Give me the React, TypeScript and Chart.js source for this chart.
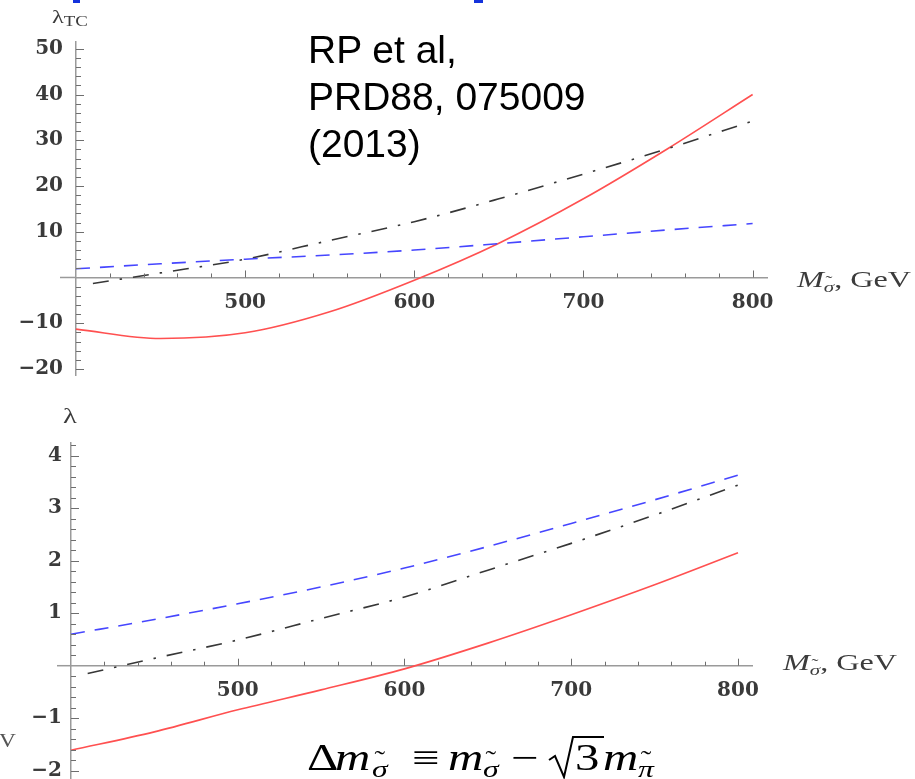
import React, { useEffect, useRef } from 'react';
import { Chart, registerables } from 'chart.js';

Chart.register(...registerables);

// ---------- data ----------
// upper panel: lambda_TC vs M (GeV)
const massTop = [400, 450, 500, 550, 600, 650, 700, 750, 800];
const lambdaTcRed = [-11.3, -13.35, -12.1, -7.5, -0.6, 7.5, 17.2, 28.2, 40.0];
const lambdaTcBlue = [1.9, 3.0, 4.0, 4.9, 6.0, 7.4, 8.9, 10.4, 11.8];
const massTopBlack = [410, 450, 500, 550, 600, 650, 700, 750, 800];
const lambdaTcBlack = [-1.3, 1.0, 4.0, 8.1, 12.2, 17.2, 22.6, 28.2, 34.2];

// lower panel: lambda vs M (GeV)
const massBottom = [400, 450, 500, 550, 600, 650, 700, 750, 800];
const lambdaRed = [-1.61, -1.26, -0.84, -0.46, -0.06, 0.43, 0.97, 1.54, 2.15];
const lambdaBlue = [0.6, 0.88, 1.18, 1.5, 1.86, 2.27, 2.71, 3.16, 3.63];
const massBottomBlack = [410, 450, 500, 550, 600, 650, 700, 750, 800];
const lambdaBlack = [-0.15, 0.14, 0.49, 0.9, 1.31, 1.82, 2.33, 2.87, 3.44];

// tick labels
const xTickLabels = [500, 600, 700, 800];
const yTopTickLabels = [-20, -10, 10, 20, 30, 40, 50];
const yBottomTickLabels = [-2, -1, 1, 2, 3, 4];

// ---------- styling ----------
const RED = 'rgb(255,80,80)';
const BLUE = 'rgb(70,70,255)';
const BLACK = 'rgb(55,55,55)';
const AXIS = '#9a9a9a';
const TICK = '#6e6e6e';
const TICK_FONT = { family: "'DejaVu Serif', serif", size: 20, weight: 'bold' };
const TICK_COLOR = '#3a3a3a';

function range(a: number, b: number, step: number): number[] {
  const out: number[] = [];
  const n = Math.round((b - a) / step);
  for (let i = 0; i <= n; i++) out.push(+(a + i * step).toFixed(6));
  return out;
}

const fmt = (v: number) => (v < 0 ? '\u2212' + Math.abs(v) : String(v));

// Mathematica-style axis decorations: inward ticks and the short stub of the
// horizontal axis that sticks out to the left of the vertical axis.
const mmaTicksPlugin = {
  id: 'mmaTicks',
  afterDraw(chart: any, _args: any, opts: any) {
    const { ctx } = chart;
    const xs = chart.scales.x;
    const ys = chart.scales.y;
    const x0 = xs.getPixelForValue(opts.xOrigin);
    const y0 = ys.getPixelForValue(0);
    ctx.save();
    ctx.strokeStyle = AXIS;
    ctx.lineWidth = 1.5;
    ctx.beginPath();
    ctx.moveTo(x0 - opts.stub, y0);
    ctx.lineTo(x0, y0);
    ctx.stroke();
    ctx.strokeStyle = TICK;
    ctx.lineWidth = 1;
    ctx.beginPath();
    for (const v of opts.xMinor) {
      const px = Math.round(xs.getPixelForValue(v)) + 0.5;
      const major = Math.abs(v % opts.xMajorStep) < 1e-6;
      ctx.moveTo(px, y0);
      ctx.lineTo(px, y0 - (major ? 7 : 4));
    }
    for (const v of opts.yMinor) {
      if (Math.abs(v) < 1e-9) continue;
      const py = Math.round(ys.getPixelForValue(v)) + 0.5;
      const major = Math.abs(Math.round(v / opts.yMajorStep) * opts.yMajorStep - v) < 1e-6;
      ctx.moveTo(x0, py);
      ctx.lineTo(x0 + (major ? 8 : 5), py);
    }
    ctx.stroke();
    ctx.restore();
  },
};

function series(xs: number[], ys: number[]) {
  return xs.map((x, i) => ({ x, y: ys[i] }));
}

function ds(xs: number[], ys: number[], color: string, dash: number[]) {
  return {
    data: series(xs, ys),
    borderColor: color,
    borderWidth: 1.6,
    borderDash: dash,
    pointRadius: 0,
    fill: false,
    clip: false,
    cubicInterpolationMode: 'monotone',
  };
}

const DASH_BLUE = [14, 10];
const DASH_BLACK = [16, 11, 2.5, 11];

function makeConfig(p: any) {
  return {
    type: 'line',
    data: {
      datasets: [
        ds(p.xBlue, p.yBlue, BLUE, DASH_BLUE),
        ds(p.xBlack, p.yBlack, BLACK, DASH_BLACK),
        ds(p.xRed, p.yRed, RED, []),
      ],
    },
    plugins: [mmaTicksPlugin],
    options: {
      animation: false,
      responsive: false,
      maintainAspectRatio: false,
      layout: { padding: p.padding },
      plugins: {
        legend: { display: false },
        tooltip: { enabled: false },
        mmaTicks: {
          xOrigin: 400,
          stub: p.stub,
          xMinor: range(420, 800, 20),
          xMajorStep: 100,
          yMinor: p.yMinor,
          yMajorStep: p.yMajorStep,
        },
      },
      scales: {
        x: {
          type: 'linear',
          axis: 'x',
          min: 400,
          max: p.xMax,
          position: { y: 0 },
          grid: { display: false, drawTicks: false },
          border: { display: true, color: AXIS, width: 1.5 },
          afterBuildTicks: (s: any) => {
            s.ticks = xTickLabels.map((v) => ({ value: v }));
          },
          ticks: {
            font: TICK_FONT,
            color: TICK_COLOR,
            padding: p.xPad,
            autoSkip: false,
            maxRotation: 0,
            callback: (v: number) => fmt(v),
          },
        },
        y: {
          type: 'linear',
          axis: 'y',
          min: p.yMin,
          max: p.yMax,
          position: 'left',
          afterFit: (s: any) => {
            s.width = p.axisX;
          },
          grid: { display: false, drawTicks: false },
          border: { display: true, color: AXIS, width: 1.5 },
          afterBuildTicks: (s: any) => {
            s.ticks = p.yTicks.map((v: number) => ({ value: v }));
          },
          ticks: {
            font: TICK_FONT,
            color: TICK_COLOR,
            padding: p.yPad,
            autoSkip: false,
            callback: (v: number) => fmt(v),
          },
        },
      },
    },
  };
}

function Panel({ params, width, height }: { params: any; width: number; height: number }) {
  const ref = useRef<HTMLCanvasElement | null>(null);
  useEffect(() => {
    if (!ref.current) return;
    const chart = new Chart(ref.current, makeConfig(params) as any);
    return () => chart.destroy();
  }, [params]);
  return <canvas ref={ref} width={width} height={height} style={{ display: 'block', width, height }} />;
}

const topParams = {
  xBlue: massTop, yBlue: lambdaTcBlue,
  xBlack: massTopBlack, yBlack: lambdaTcBlack,
  xRed: massTop, yRed: lambdaTcRed,
  axisX: 76,
  stub: 16,
  padding: { left: 0, top: 42, right: 148, bottom: 20 },
  xMax: 808.5,
  yMin: -21.32, yMax: 51.48,
  yTicks: yTopTickLabels,
  yMinor: range(-20, 50, 2),
  yMajorStep: 10,
  xPad: 13, yPad: 13,
};

const bottomParams = {
  xBlue: massBottom, yBlue: lambdaBlue,
  xBlack: massBottomBlack, yBlack: lambdaBlack,
  xRed: massBottom, yRed: lambdaRed,
  axisX: 71,
  stub: 14,
  padding: { left: 0, top: 43, right: 163, bottom: 21 },
  xMax: 808.4,
  yMin: -2.158, yMax: 4.242,
  yTicks: yBottomTickLabels,
  yMinor: range(-2.2, 4.2, 0.2),
  yMajorStep: 1,
  xPad: 13, yPad: 9,
};

const serif = "'Liberation Serif', 'Times New Roman', serif";
const labelGray = '#3c3c3c';

// a letter with a tilde accent drawn above it
function Tilde({ ch, size }: { ch: string; size: number }) {
  return (
    <span style={{ position: 'relative', display: 'inline-block', fontStyle: 'italic' }}>
      {ch}
      <span
        style={{
          position: 'absolute', left: 0, width: '100%', textAlign: 'center', top: -size * 0.42,
          fontStyle: 'normal',
        }}
      >
        ˜
      </span>
    </span>
  );
}

function AxisName({ left, top }: { left: number; top: number }) {
  return (
    <div
      style={{
        position: 'absolute', left, top, fontFamily: serif, fontSize: 23, lineHeight: '23px',
        color: labelGray, whiteSpace: 'nowrap', transform: 'scaleX(1.4)', transformOrigin: 'left top',
      }}
    >
      <i>M</i>
      <span style={{ fontSize: 15, verticalAlign: -5 }}>
        <Tilde ch="σ" size={15} />
      </span>
      , GeV
    </div>
  );
}

// one piece of the formula, placed by its left edge and baseline
function Piece({ x, base, size, italic, children }: any) {
  return (
    <span
      style={{
        position: 'absolute', left: x, top: base - Math.round(size * 0.8375), fontFamily: serif,
        fontSize: size, lineHeight: `${size}px`, fontStyle: italic ? 'italic' : 'normal', color: '#000',
        whiteSpace: 'nowrap', transform: 'scaleX(1.32)', transformOrigin: 'left top',
      }}
    >
      {children}
    </span>
  );
}

export default function App() {
  const B = 770;
  const SB = 777;
  return (
    <div
      style={{
        position: 'absolute', left: 0, top: 0, width: 915, height: 779, overflow: 'hidden',
        background: '#fff',
      }}
    >
      {/* cut-off title fragments at top edge */}
      <div style={{ position: 'absolute', left: 73, top: 0, width: 7, height: 3, background: 'rgb(20,50,220)' }} />
      <div style={{ position: 'absolute', left: 474, top: 0, width: 9, height: 3, background: 'rgb(20,50,220)' }} />

      <div style={{ position: 'absolute', left: 0, top: 0, width: 915, height: 400 }}>
        <Panel params={topParams} width={915} height={400} />
      </div>
      <div style={{ position: 'absolute', left: 0, top: 400, width: 915, height: 379, overflow: 'hidden' }}>
        <Panel params={bottomParams} width={915} height={400} />
      </div>

      {/* y-axis titles */}
      <div
        style={{
          position: 'absolute', left: 52, top: 8, fontFamily: serif, fontSize: 18, lineHeight: '18px',
          color: labelGray, whiteSpace: 'nowrap', transform: 'scaleX(1.35)', transformOrigin: 'left top',
        }}
      >
        λ<span style={{ fontSize: 14, verticalAlign: -3 }}>TC</span>
      </div>
      <div
        style={{
          position: 'absolute', left: 63, top: 405, fontFamily: serif, fontSize: 22, lineHeight: '22px',
          color: labelGray, transform: 'scaleX(1.3)', transformOrigin: 'left top',
        }}
      >
        λ
      </div>

      {/* x-axis titles */}
      <AxisName left={797} top={268} />
      <AxisName left={783} top={651} />

      {/* citation */}
      <div
        style={{
          position: 'absolute', left: 308, top: 26, fontFamily: "'Liberation Sans', Arial, sans-serif",
          fontSize: 39, lineHeight: '47px', color: '#000', whiteSpace: 'nowrap',
        }}
      >
        RP et al,
        <br />
        PRD88, 075009
        <br />
        (2013)
      </div>

      {/* formula: Δm_σ̃ ≡ m_σ̃ − √3 m_π̃ */}
      <Piece x={307} base={B} size={37}>Δ</Piece>
      <Piece x={335} base={B} size={37} italic>m</Piece>
      <Piece x={372} base={SB} size={24}><Tilde ch="σ" size={24} /></Piece>
      <Piece x={412} base={B} size={37}>≡</Piece>
      <Piece x={448} base={B} size={37} italic>m</Piece>
      <Piece x={483} base={SB} size={24}><Tilde ch="σ" size={24} /></Piece>
      <Piece x={511} base={B} size={37}>−</Piece>
      <svg style={{ position: 'absolute', left: 0, top: 0 }} width={915} height={779}>
        <polyline
          points="549,760 555,756 564,777 573,737 604,737"
          fill="none"
          stroke="#000"
          strokeWidth={2}
          strokeLinejoin="miter"
        />
      </svg>
      <Piece x={575} base={B} size={37}>3</Piece>
      <Piece x={603} base={B} size={37} italic>m</Piece>
      <Piece x={638} base={SB} size={24}><Tilde ch="π" size={24} /></Piece>

      {/* cut-off fragment at left edge */}
      <div
        style={{
          position: 'absolute', left: -1, top: 732, fontFamily: serif, fontSize: 18, lineHeight: '18px',
          color: '#555', transform: 'scaleX(1.3)', transformOrigin: 'left top',
        }}
      >
        V
      </div>
    </div>
  );
}
